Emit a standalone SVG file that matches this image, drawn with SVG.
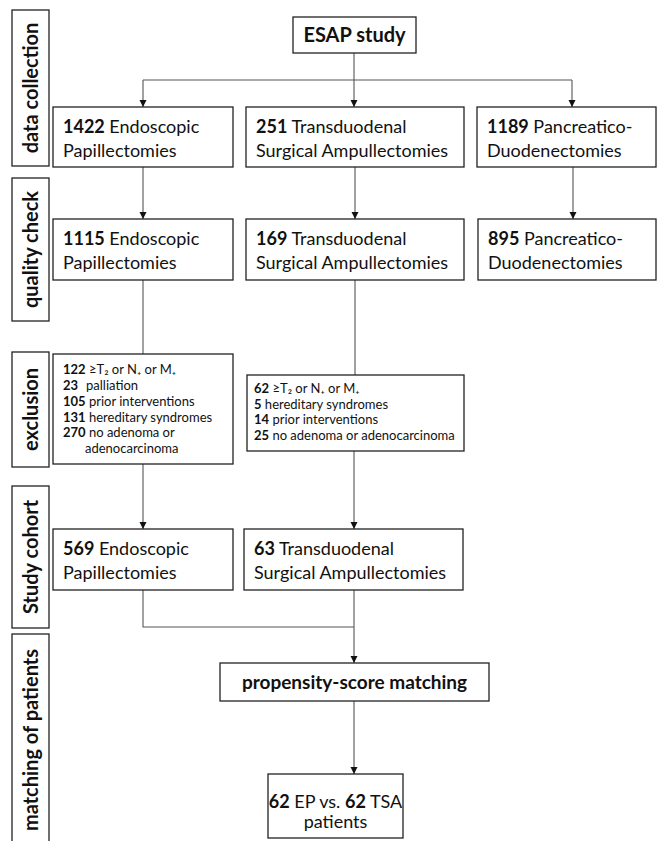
<svg xmlns="http://www.w3.org/2000/svg" width="657" height="841" viewBox="0 0 657 841">
<defs>
<marker id="arr" markerUnits="userSpaceOnUse" markerWidth="8" markerHeight="8" refX="7" refY="4" orient="auto">
<path d="M0,0.5 L7,4 L0,7.5 z" fill="#111"/>
</marker>
<style>
text{font-family:Lato,"Liberation Sans",sans-serif;fill:#111}
.box{fill:#fff;stroke:#222;stroke-width:1.3}
.side{font-size:20px;font-weight:bold}
.t{font-size:18px}
.s{font-size:13px}
.con{fill:none;stroke:#555;stroke-width:1.1}
.arrow{marker-end:url(#arr)}
</style>
</defs>
<rect width="657" height="841" fill="#fff"/>

<g id="side-data-collection">
<rect class="box" x="12" y="10" width="37" height="156"/>
<text class="side" transform="translate(38,88) rotate(-90)" text-anchor="middle">data collection</text>
</g>
<g id="side-quality-check">
<rect class="box" x="12" y="178" width="37" height="143"/>
<text class="side" transform="translate(38,249.5) rotate(-90)" text-anchor="middle">quality check</text>
</g>
<g id="side-exclusion">
<rect class="box" x="12" y="352" width="37" height="115"/>
<text class="side" transform="translate(38,409.5) rotate(-90)" text-anchor="middle">exclusion</text>
</g>
<g id="side-study-cohort">
<rect class="box" x="12" y="486" width="37" height="142"/>
<text class="side" transform="translate(38,557) rotate(-90)" text-anchor="middle">Study cohort</text>
</g>
<g id="side-matching">
<rect class="box" x="12" y="634" width="37" height="215"/>
<text class="side" transform="translate(38,740) rotate(-90)" text-anchor="middle">matching of patients</text>
</g>

<g id="connectors">
<path class="con arrow" d="M354,53 V107"/>
<path class="con" d="M143,80 H572"/>
<path class="con arrow" d="M143,80 V107"/>
<path class="con arrow" d="M572,80 V107"/>
<path class="con arrow" d="M143,167 V219"/>
<path class="con arrow" d="M355,167 V219"/>
<path class="con arrow" d="M573,167 V219"/>
<path class="con" d="M143,280 V354"/>
<path class="con" d="M355,280 V375"/>
<path class="con arrow" d="M143,464 V529"/>
<path class="con arrow" d="M354,451 V529"/>
<path class="con" d="M143,590 V627 H354"/>
<path class="con arrow" d="M354,590 V663"/>
<path class="con arrow" d="M354,701 V774"/>
</g>

<g id="esap">
<rect class="box" x="293" y="17" width="123" height="36"/>
<text x="354.5" y="42" text-anchor="middle" font-size="20" font-weight="bold">ESAP study</text>
</g>

<g id="dc-ep">
<rect class="box" x="53" y="107" width="180" height="60"/>
<text class="t" x="63" y="133"><tspan font-weight="bold">1422</tspan> Endoscopic</text>
<text class="t" x="63" y="157">Papillectomies</text>
</g>
<g id="dc-tsa">
<rect class="box" x="246" y="107" width="218" height="60"/>
<text class="t" x="256" y="133"><tspan font-weight="bold">251</tspan> Transduodenal</text>
<text class="t" x="256" y="157">Surgical Ampullectomies</text>
</g>
<g id="dc-pd">
<rect class="box" x="477" y="107" width="179" height="60"/>
<text class="t" x="487" y="133"><tspan font-weight="bold">1189</tspan> Pancreatico-</text>
<text class="t" x="487" y="157">Duodenectomies</text>
</g>

<g id="qc-ep">
<rect class="box" x="53" y="219" width="180" height="61"/>
<text class="t" x="63" y="245"><tspan font-weight="bold">1115</tspan> Endoscopic</text>
<text class="t" x="63" y="269">Papillectomies</text>
</g>
<g id="qc-tsa">
<rect class="box" x="246" y="219" width="218" height="61"/>
<text class="t" x="256" y="245"><tspan font-weight="bold">169</tspan> Transduodenal</text>
<text class="t" x="256" y="269">Surgical Ampullectomies</text>
</g>
<g id="qc-pd">
<rect class="box" x="478" y="219" width="178" height="61"/>
<text class="t" x="488" y="245"><tspan font-weight="bold">895</tspan> Pancreatico-</text>
<text class="t" x="488" y="269">Duodenectomies</text>
</g>

<g id="ex-ep">
<rect class="box" x="53" y="354" width="180" height="110"/>
<text class="s" x="63" y="374"><tspan font-weight="bold">122</tspan> ≥T₂ or N₊ or M₊</text>
<text class="s" x="63" y="390"><tspan font-weight="bold">23</tspan><tspan x="86">palliation</tspan></text>
<text class="s" x="63" y="406"><tspan font-weight="bold">105</tspan> prior interventions</text>
<text class="s" x="63" y="422"><tspan font-weight="bold">131</tspan> hereditary syndromes</text>
<text class="s" x="63" y="437"><tspan font-weight="bold">270</tspan> no adenoma or</text>
<text class="s" x="85" y="453">adenocarcinoma</text>
</g>
<g id="ex-tsa">
<rect class="box" x="247" y="375" width="217" height="76"/>
<text class="s" x="254" y="393"><tspan font-weight="bold">62</tspan> ≥T₂ or N₊ or M₊</text>
<text class="s" x="254" y="409"><tspan font-weight="bold">5</tspan> hereditary syndromes</text>
<text class="s" x="254" y="424"><tspan font-weight="bold">14</tspan> prior interventions</text>
<text class="s" x="254" y="440"><tspan font-weight="bold">25</tspan> no adenoma or adenocarcinoma</text>
</g>

<g id="sc-ep">
<rect class="box" x="53" y="529" width="180" height="61"/>
<text class="t" x="63" y="555"><tspan font-weight="bold">569</tspan> Endoscopic</text>
<text class="t" x="63" y="579">Papillectomies</text>
</g>
<g id="sc-tsa">
<rect class="box" x="244" y="529" width="219" height="61"/>
<text class="t" x="254" y="555"><tspan font-weight="bold">63</tspan> Transduodenal</text>
<text class="t" x="254" y="579">Surgical Ampullectomies</text>
</g>

<g id="psm">
<rect class="box" x="220" y="663" width="269" height="38"/>
<text x="354.5" y="689" text-anchor="middle" font-size="19" font-weight="bold">propensity-score matching</text>
</g>
<g id="result">
<rect class="box" x="268" y="774" width="135" height="64"/>
<text class="t" x="335.5" y="808" text-anchor="middle"><tspan font-weight="bold">62</tspan> EP vs. <tspan font-weight="bold">62</tspan> TSA</text>
<text class="t" x="335.5" y="828" text-anchor="middle">patients</text>
</g>
</svg>
